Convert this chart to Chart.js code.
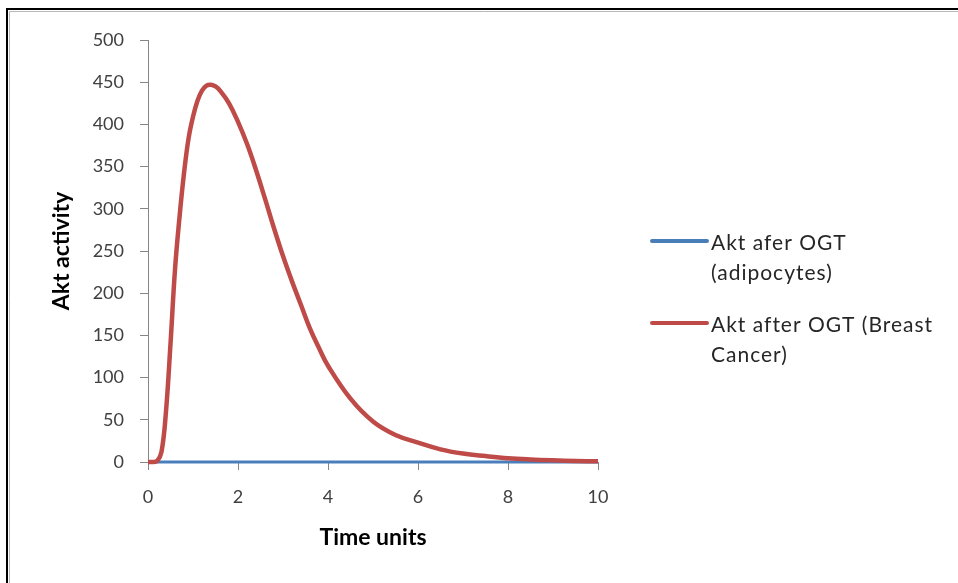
<!DOCTYPE html>
<html>
<head>
<meta charset="utf-8">
<script src="https://cdn.jsdelivr.net/npm/chart.js@4/dist/chart.umd.min.js"></script>
<style>
  body { margin: 0; background: #fff; }
  #wrap { width: 958px; height: 583px; }
</style>
</head>
<body>
<div id="wrap"><canvas id="aktChart" width="958" height="583"></canvas></div>
<script>
// values
const timeUnits = [0, 0.1, 0.2, 0.3, 0.4, 0.5, 0.6, 0.7, 0.8, 0.9, 1.0, 1.1, 1.2, 1.3, 1.4, 1.5, 1.6, 1.8, 2.0, 2.2, 2.4, 2.6, 2.8, 3.0, 3.2, 3.4, 3.6, 3.8, 4.0, 4.5, 5.0, 5.5, 6.0, 6.5, 7.0, 7.5, 8.0, 8.5, 9.0, 9.5, 10];
const aktAdipocytes = [0, 0, 0, 0, 0, 0, 0, 0, 0, 0, 0, 0, 0, 0, 0, 0, 0, 0, 0, 0, 0, 0, 0, 0, 0, 0, 0, 0, 0, 0, 0, 0, 0, 0, 0, 0, 0, 0, 0, 0, 0];
const aktBreastCancer = [0, 0, 1, 12, 60, 140, 228, 290, 342, 383, 409, 428, 440, 446, 447, 445, 440, 425, 403, 377, 346, 312, 277, 244, 214, 186, 158, 135, 114, 75, 48, 32, 23, 15, 10, 7, 4.5, 3, 2, 1.3, 0.8];
const legendLines = [['Akt afer OGT', '(adipocytes)'], ['Akt after OGT (Breast', 'Cancer)']];
const xTitle = 'Time units';
const yTitle = 'Akt activity';

const toPoints = vals => timeUnits.map((t, i) => ({ x: t, y: vals[i] }));
const FONT = 'Lato, "Open Sans", sans-serif';
const axisGray = '#868686';

// frame around the picture, like the original screenshot
const framePlugin = {
  id: 'frame',
  beforeDraw(chart) {
    const ctx = chart.ctx;
    ctx.save();
    ctx.strokeStyle = '#000';
    ctx.lineWidth = 2;
    ctx.beginPath();
    ctx.moveTo(7, 583);
    ctx.lineTo(7, 9);
    ctx.lineTo(958, 9);
    ctx.stroke();
    ctx.strokeStyle = '#b8b8b8';
    ctx.lineWidth = 1;
    ctx.beginPath();
    ctx.moveTo(9.5, 583);
    ctx.lineTo(9.5, 11.5);
    ctx.lineTo(958, 11.5);
    ctx.stroke();
    ctx.restore();
  }
};

// legend on the right with wrapped labels
const sideLegend = {
  id: 'sideLegend',
  afterDraw(chart) {
    const ctx = chart.ctx;
    const rows = [241, 323];
    ctx.save();
    ctx.font = '21px ' + FONT;
    ctx.letterSpacing = '1px';
    ctx.fillStyle = '#262626';
    ctx.textBaseline = 'middle';
    chart.data.datasets.forEach((ds, i) => {
      const y = rows[i];
      ctx.strokeStyle = ds.borderColor;
      ctx.lineWidth = 4;
      ctx.lineCap = 'round';
      ctx.beginPath();
      ctx.moveTo(652, y);
      ctx.lineTo(707, y);
      ctx.stroke();
      legendLines[i].forEach((txt, j) => ctx.fillText(txt, 711, y + 2 + j * 30));
    });
    ctx.restore();
  }
};

new Chart(document.getElementById('aktChart'), {
  type: 'line',
  data: {
    datasets: [
      {
        label: legendLines[0].join(' '),
        data: toPoints(aktAdipocytes),
        borderColor: '#4a7ebb',
        borderWidth: 3,
        pointRadius: 0,
        clip: false,
        order: 1
      },
      {
        label: legendLines[1].join(' '),
        data: toPoints(aktBreastCancer),
        borderColor: '#be4b48',
        borderWidth: 4.5,
        pointRadius: 0,
        tension: 0.4,
        clip: false,
        order: 0
      }
    ]
  },
  options: {
    responsive: false,
    animation: false,
    layout: { padding: { top: 40, right: 360, left: 0, bottom: 0 } },
    plugins: { legend: { display: false }, tooltip: { enabled: false } },
    scales: {
      x: {
        type: 'linear',
        min: 0,
        max: 10,
        afterFit: s => { s.height = 121; },
        border: { color: axisGray, width: 1 },
        grid: { drawOnChartArea: false, color: axisGray, tickLength: 8 },
        ticks: { stepSize: 2, color: '#404040', font: { family: FONT, size: 18 }, padding: 16 },
        title: { display: true, text: xTitle, color: '#000', font: { family: FONT, size: 23, weight: 'bold' }, padding: { bottom: 32 } }
      },
      y: {
        min: 0,
        max: 500,
        afterFit: s => { s.width = 148; },
        border: { color: axisGray, width: 1 },
        grid: { drawOnChartArea: false, color: axisGray, tickLength: 8 },
        ticks: { stepSize: 50, color: '#404040', font: { family: FONT, size: 18 }, padding: 16 },
        title: { display: true, text: yTitle, color: '#000', font: { family: FONT, size: 23, weight: 'bold' }, padding: { top: 48 } }
      }
    }
  },
  plugins: [framePlugin, sideLegend]
});
</script>
</body>
</html>
